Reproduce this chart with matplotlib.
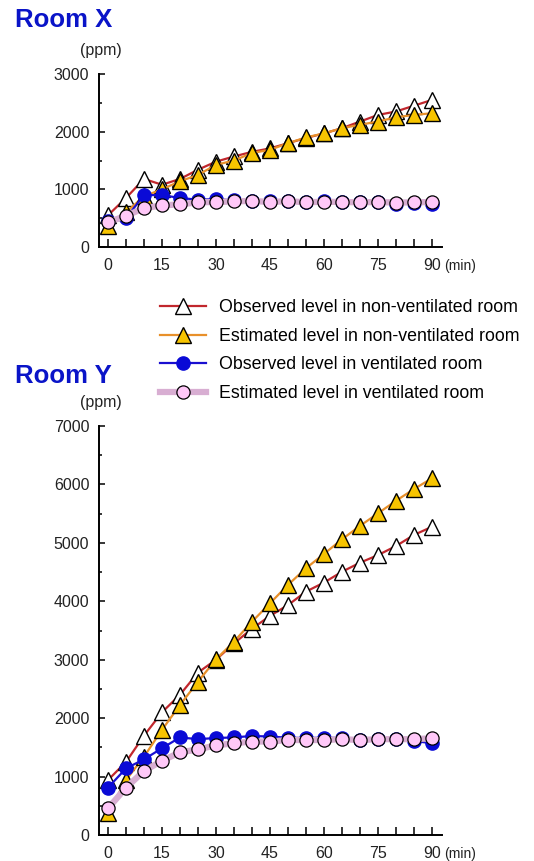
import matplotlib
matplotlib.use("Agg")
import matplotlib.pyplot as plt
from matplotlib.ticker import MultipleLocator

plt.rcParams['font.family'] = ['Liberation Sans', 'DejaVu Sans']

# time (min)
minutes = list(range(0, 91, 5))

# Room X (ppm)
x_obs_nonvent = [550, 850, 1180, 1080, 1180, 1340, 1480, 1570, 1650, 1710, 1800, 1890, 1970, 2060, 2175, 2290, 2350, 2450, 2550]
x_est_nonvent = [360, 600, 880, 1000, 1140, 1250, 1425, 1500, 1630, 1685, 1800, 1900, 1970, 2060, 2120, 2175, 2250, 2290, 2320]
x_obs_vent = [450, 500, 900, 900, 850, 820, 830, 810, 800, 800, 790, 780, 800, 780, 780, 780, 750, 770, 750]
x_est_vent = [430, 540, 675, 720, 740, 775, 780, 790, 800, 780, 795, 775, 785, 780, 775, 780, 770, 775, 780]

# Room Y (ppm)
y_obs_nonvent = [940, 1250, 1700, 2100, 2400, 2780, 3000, 3280, 3530, 3750, 3935, 4165, 4320, 4505, 4660, 4790, 4945, 5135, 5275]
y_est_nonvent = [380, 940, 1340, 1800, 2225, 2625, 3005, 3310, 3650, 3965, 4280, 4565, 4810, 5060, 5290, 5505, 5720, 5920, 6105]
y_obs_vent = [810, 1140, 1295, 1485, 1670, 1640, 1660, 1670, 1695, 1685, 1665, 1660, 1665, 1660, 1625, 1640, 1640, 1610, 1570]
y_est_vent = [455, 810, 1095, 1270, 1415, 1465, 1535, 1570, 1600, 1600, 1625, 1625, 1625, 1640, 1625, 1640, 1640, 1640, 1655]

labels = ["Observed level in non-ventilated room",
          "Estimated level in non-ventilated room",
          "Observed level in ventilated room",
          "Estimated level in ventilated room"]

W, H = 534, 861
fig = plt.figure(figsize=(W / 100, H / 100), dpi=100)


def draw_room(ax, obs_nv, est_nv, obs_v, est_v, ymax):
    h1, = ax.plot(minutes, obs_nv, color='#c1272d', lw=1.6, marker='^', ms=11,
                  mfc='white', mec='black', mew=1.0, zorder=3)
    h2, = ax.plot(minutes, est_nv, color='#e8902a', lw=1.6, marker='^', ms=11,
                  mfc='#f7c400', mec='black', mew=1.0, zorder=4)
    h3, = ax.plot(minutes, obs_v, color='#1a0fd0', lw=1.6, marker='o', ms=9.5,
                  mfc='#0a0ad6', mec='#0a0ad6', mew=1.0, zorder=5)
    h4, = ax.plot(minutes, est_v, color='#d8aed2', lw=4.5, marker='o', ms=9.5,
                  mfc='#ffc8f8', mec='black', mew=0.9, zorder=6)
    ax.set_xlim(-2.5, 92.8)
    ax.set_ylim(0, ymax)
    ax.spines['top'].set_visible(False)
    ax.spines['right'].set_visible(False)
    ax.spines['left'].set_linewidth(1.4)
    ax.spines['bottom'].set_linewidth(1.4)
    ax.xaxis.set_major_locator(MultipleLocator(15))
    ax.xaxis.set_minor_locator(MultipleLocator(5))
    ax.yaxis.set_major_locator(MultipleLocator(1000))
    ax.yaxis.set_minor_locator(MultipleLocator(500))
    ax.tick_params(axis='x', which='both', direction='in', length=5.5, width=1.1,
                   labelsize=11.5, pad=8)
    ax.tick_params(axis='y', which='major', direction='in', length=4, width=1.1,
                   labelsize=11.5, pad=7)
    ax.tick_params(axis='y', which='minor', direction='in', length=2, width=1.1)
    for lab in ax.get_xticklabels() + ax.get_yticklabels():
        lab.set_color('#222222')
    ax.annotate("(min)", xy=(1.0, 0), xycoords='axes fraction', xytext=(1.5, -13.5),
                textcoords='offset points', fontsize=10, ha='left', va='center',
                color='#222222')
    return [h1, h2, h3, h4]


ax1 = fig.add_axes([99 / W, 1 - 247 / H, 343 / W, 173 / H])
handles = draw_room(ax1, x_obs_nonvent, x_est_nonvent, x_obs_vent, x_est_vent, 3000)
ax2 = fig.add_axes([99 / W, 1 - 835 / H, 343 / W, 409 / H])
draw_room(ax2, y_obs_nonvent, y_est_nonvent, y_obs_vent, y_est_vent, 7000)

# titles and units
fig.text(15 / W, 1 - 27 / H, "Room X", fontsize=18.5, fontweight='bold', color='#0a14c8',
         ha='left', va='baseline')
fig.text(15 / W, 1 - 383 / H, "Room Y", fontsize=18.5, fontweight='bold', color='#0a14c8',
         ha='left', va='baseline')
fig.text(80 / W, 1 - 51 / H, "(ppm)", fontsize=11.5, ha='left', va='center', color='#222222')
fig.text(80 / W, 1 - 403 / H, "(ppm)", fontsize=11.5, ha='left', va='center', color='#222222')

fig.legend(handles, labels, loc='upper left', bbox_to_anchor=(160 / W, 1 - 299 / H),
           frameon=False, fontsize=12.8, handlelength=2.6, handletextpad=0.7,
           labelspacing=0.66, borderaxespad=0, borderpad=0)

fig.savefig("out.png", dpi=100)
